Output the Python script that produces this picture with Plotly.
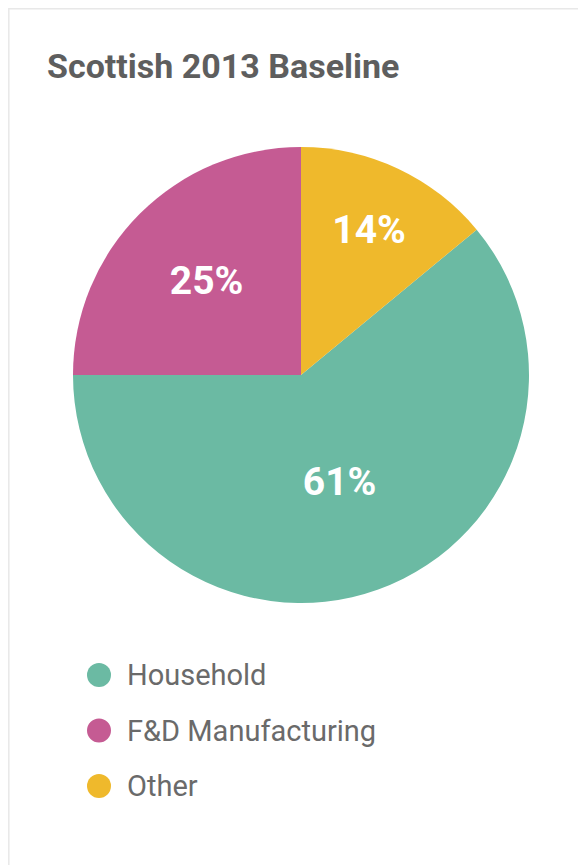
import plotly.graph_objects as go

# page has an 8px body margin; figure fills the rest of the 586x865 window
OFF = 8
W, H = 586 - OFF, 865 - OFF

categories = ["Household", "F&D Manufacturing", "Other"]
values = [61, 25, 14]
colors = ["#6BBAA3", "#C55B93", "#EFB92C"]
title_text = "Scottish 2013 Baseline"

def px(x):
    return (x - OFF) / W

def py(y):
    return 1 - (y - OFF) / H

cx, cy, r = 301, 375, 228

fig = go.Figure()
fig.add_trace(go.Pie(
    labels=categories,
    values=values,
    sort=False,
    direction="clockwise",
    rotation=values[-1] / sum(values) * 360,
    marker=dict(colors=colors, line=dict(width=0)),
    texttemplate="%{percent:.0%}",
    textposition="inside",
    insidetextorientation="horizontal",
    textfont=dict(family="Roboto", size=39, color="white", weight="bold"),
    hoverinfo="label+percent",
    showlegend=False,
    domain=dict(x=[px(cx - r), px(cx + r)], y=[py(cy + r), py(cy - r)]),
))

shapes = [dict(type="rect", xref="paper", yref="paper",
               x0=0.8 / W, x1=1 + 20 / W, y0=-20 / H, y1=1 - 0.8 / H,
               line=dict(color="#E8E8E8", width=1.5), fillcolor="rgba(0,0,0,0)", layer="below")]
annotations = []
leg_y0, leg_dy, rad = 675, 55.5, 12
for i, (cat, col) in enumerate(zip(categories, colors)):
    yc = leg_y0 + i * leg_dy
    shapes.append(dict(type="circle", xref="paper", yref="paper",
                       x0=px(99 - rad), x1=px(99 + rad), y0=py(yc + rad), y1=py(yc - rad),
                       fillcolor=col, line=dict(width=0)))
    annotations.append(dict(text=cat, xref="paper", yref="paper", x=px(125), y=py(yc),
                            xanchor="left", yanchor="middle", showarrow=False,
                            font=dict(family="Roboto", size=29, color="#6A6A6A")))

fig.update_layout(
    width=W, height=H,
    margin=dict(l=0, r=0, t=0, b=0),
    paper_bgcolor="white",
    plot_bgcolor="white",
    title=dict(text=title_text, x=px(47), xanchor="left", xref="paper",
               y=py(66), yanchor="middle", yref="paper",
               font=dict(family="Roboto", size=34, color="#5E5E5E", weight="bold")),
    shapes=shapes,
    annotations=annotations,
)

fig.write_html("out.html")
